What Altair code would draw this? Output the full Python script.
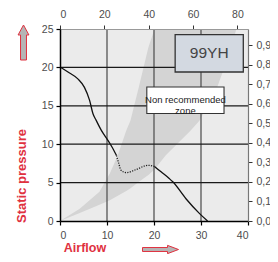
import altair as alt
import pandas as pd

# ---------------- data ----------------
# fan curve (airflow, static pressure)
solidA_x = [0, 1.7, 3.8, 5.2, 6.3, 7.0, 7.7, 8.8, 10.2, 11.0, 12.0]
solidA_y = [20.05, 19.4, 18.5, 17.4, 15.7, 14.0, 13.1, 11.8, 10.5, 9.7, 8.55]
dotted_x = [12.0, 12.5, 13.0, 14.1, 16.2, 18.7, 20.1]
dotted_y = [8.55, 7.5, 6.6, 6.3, 6.7, 7.25, 7.1]
solidB_x = [20.1, 21.5, 23.3, 24.0, 26.8, 29.7, 31.4]
solidB_y = [7.1, 6.4, 5.5, 5.1, 2.9, 0.96, 0.0]

# non recommended zone (band between two system curves)
band_x = [0, 4.2, 8.4, 10.6, 12.3, 14.1, 15.0, 16.8, 18.8, 20.1, 22.5, 27.8, 29.7, 33.5, 36.5, 37.5]
band_top = [0, 1.6, 3.8, 6.2, 8.55, 11.8, 13.1, 17.5, 22.6, 25, 25, 25, 25, 25, 25, 25]
band_bottom = [0, 1.05, 2.1, 2.7, 3.3, 3.9, 4.25, 5.1, 6.0, 6.7, 8.55, 11.8, 13.1, 17.5, 22.6, 25]

# axes
x_ticks = [0, 10, 20, 30, 40]
y_ticks = [0, 5, 10, 15, 20, 25]
top_ticks = [0, 20, 40, 60, 80]
right_ticks = [0.0, 0.1, 0.2, 0.3, 0.4, 0.5, 0.6, 0.7, 0.8, 0.9]
h_grid = [5, 10, 15, 20]
v_grid = [10, 20, 30]

model_label = "99YH"
zone_label = ["Non recommended", "zone"]
y_title = "Static pressure"
x_title = "Airflow"

# annotation boxes (data coordinates)
model_box = {"x": 24.5, "x2": 39.0, "y": 24.27, "y2": 19.4}
zone_box = {"x": 18.47, "x2": 34.9, "y": 17.45, "y2": 14.0}

# ---------------- chart ----------------
FONT = "Liberation Sans"
LABEL_COLOR = "#4d4d4d"
RED = "#e0313f"

X = alt.Scale(domain=[0, 40], nice=False, zero=False)
Y = alt.Scale(domain=[0, 25], nice=False, zero=False)

AX_B = alt.Axis(values=x_ticks, grid=False, title=None, domainColor="#000",
                domainWidth=1.5, tickColor="#000", tickSize=4, tickWidth=1.2,
                labelPadding=5, labelFontSize=10.5, labelFont=FONT,
                labelColor=LABEL_COLOR, zindex=1)
AX_L = alt.Axis(values=y_ticks, grid=False, title=None, domainColor="#000",
                domainWidth=1.5, tickColor="#000", tickSize=4, tickWidth=1.2,
                labelPadding=3, labelFontSize=10.5, labelFont=FONT,
                labelColor=LABEL_COLOR, zindex=1)


def xe(field):
    return alt.X(field, type="quantitative", scale=X, axis=AX_B)


def ye(field):
    return alt.Y(field, type="quantitative", scale=Y, axis=AX_L)


band_df = pd.DataFrame({"x": band_x, "top": band_top, "bottom": band_bottom})
band = alt.Chart(band_df).mark_area(color="#d4d4d4", opacity=1).encode(
    x=xe("x"), y=ye("bottom"), y2="top:Q",
)

hgrid = alt.Chart(pd.DataFrame({"y": h_grid})).mark_rule(color="#1a1a1a", strokeWidth=1.3).encode(
    y=ye("y")
)
vgrid = alt.Chart(pd.DataFrame({"x": v_grid})).mark_rule(color="#555555", strokeWidth=1.3).encode(
    x=xe("x")
)

solid_df = pd.DataFrame({
    "x": solidA_x + solidB_x,
    "y": solidA_y + solidB_y,
    "seg": ["a"] * len(solidA_x) + ["b"] * len(solidB_x),
})
dotted_df = pd.DataFrame({"x": dotted_x, "y": dotted_y})

solid = alt.Chart(solid_df).mark_line(color="#111111", strokeWidth=1.3, interpolate="monotone").encode(
    x=xe("x"), y=ye("y"), detail="seg:N",
)
dotted = alt.Chart(dotted_df).mark_line(color="#222222", strokeWidth=1.3, strokeDash=[1.2, 1.3],
                                        interpolate="monotone").encode(
    x=xe("x"), y=ye("y"),
)

model_rect = alt.Chart(pd.DataFrame([model_box])).mark_rect(
    fill="#d3d9e1", stroke="#333333", strokeWidth=1.3).encode(
    x=xe("x"), x2="x2:Q", y=ye("y"), y2="y2:Q",
)
model_text = alt.Chart(pd.DataFrame({
    "x": [(model_box["x"] + model_box["x2"]) / 2],
    "y": [(model_box["y"] + model_box["y2"]) / 2],
    "t": [model_label]})).mark_text(
    font=FONT, fontSize=15.5, color="#444444", baseline="middle", align="center").encode(
    x=xe("x"), y=ye("y"), text="t:N")

zone_rect = alt.Chart(pd.DataFrame([zone_box])).mark_rect(
    fill="#ffffff", stroke="#333333", strokeWidth=1.1).encode(
    x=xe("x"), x2="x2:Q", y=ye("y"), y2="y2:Q",
)
zone_text = alt.Chart(pd.DataFrame({
    "x": [(zone_box["x"] + zone_box["x2"]) / 2],
    "y": [(zone_box["y"] + zone_box["y2"]) / 2],
    "t": [zone_label]})).mark_text(
    font=FONT, fontSize=9.5, color="#222222", baseline="middle",
    align="center", lineHeight=11).encode(
    x=xe("x"), y=ye("y"), text="t")

y_title_mark = alt.Chart(pd.DataFrame({"t": [y_title]})).mark_text(
    angle=270, font=FONT, fontWeight="bold", fontSize=13, color=RED,
    align="center", baseline="middle").encode(
    x=alt.value(-38), y=alt.value(147), text="t:N")
x_title_mark = alt.Chart(pd.DataFrame({"t": [x_title]})).mark_text(
    font=FONT, fontWeight="bold", fontSize=12.5, color=RED,
    align="center", baseline="middle").encode(
    x=alt.value(25), y=alt.value(218.5), text="t:N")

up_arrow = alt.Chart(pd.DataFrame({"a": [1]})).mark_point(
    shape="M -0.17 1 L 0.17 1 L 0.17 -0.43 L 0.31 -0.43 L 0 -1 L -0.31 -0.43 L -0.17 -0.43 Z",
    size=1225, filled=True, fill="#b5b5b5", stroke=RED, strokeWidth=1, opacity=1).encode(
    x=alt.value(-36.5), y=alt.value(13.5))
right_arrow = alt.Chart(pd.DataFrame({"a": [1]})).mark_point(
    shape="M -1 -0.11 L 0.39 -0.11 L 0.39 -0.23 L 1 0 L 0.39 0.23 L 0.39 0.11 L -1 0.11 Z",
    size=1296, filled=True, fill="#b5b5b5", stroke=RED, strokeWidth=1, opacity=1).encode(
    x=alt.value(100.5), y=alt.value(220.5))

inner = alt.layer(band, vgrid, hgrid, dotted, solid, model_rect, model_text, zone_rect, zone_text,
                  y_title_mark, x_title_mark, up_arrow, right_arrow)

axes_df = pd.DataFrame({"x": [0], "y": [0]})
secondary = alt.Chart(axes_df).mark_point(opacity=0).encode(
    x=alt.X("x:Q", scale=alt.Scale(domain=[0, 84.76], nice=False, zero=False),
            axis=alt.Axis(orient="top", values=top_ticks, grid=False, title=None,
                          domainColor="#999999", domainWidth=1, tickColor="#333",
                          tickSize=4, tickWidth=1, labelPadding=6, labelFontSize=10.5,
                          labelFont=FONT, labelColor=LABEL_COLOR, zindex=1)),
    y=alt.Y("y:Q", scale=alt.Scale(domain=[0, 0.984], nice=False, zero=False),
            axis=alt.Axis(orient="right", values=right_ticks, format=".1f",
                          labelExpr="replace(datum.label, '.', ',')", grid=False, title=None,
                          domainColor="#777777", domainWidth=1.2, tickColor="#333",
                          tickSize=4, tickWidth=1, labelPadding=4, labelFontSize=10.5,
                          labelFont=FONT, labelColor=LABEL_COLOR, zindex=1)),
)

chart = alt.layer(inner, secondary).resolve_scale(x="independent", y="independent").properties(
    width=188, height=192,
    padding={"left": 52, "top": 21, "right": 22, "bottom": 33},
    autosize=alt.AutoSizeParams(type="none"),
).configure_view(fill="#ebebeb", stroke=None)

chart.save("out.html", embed_options={"renderer": "svg", "actions": False})
